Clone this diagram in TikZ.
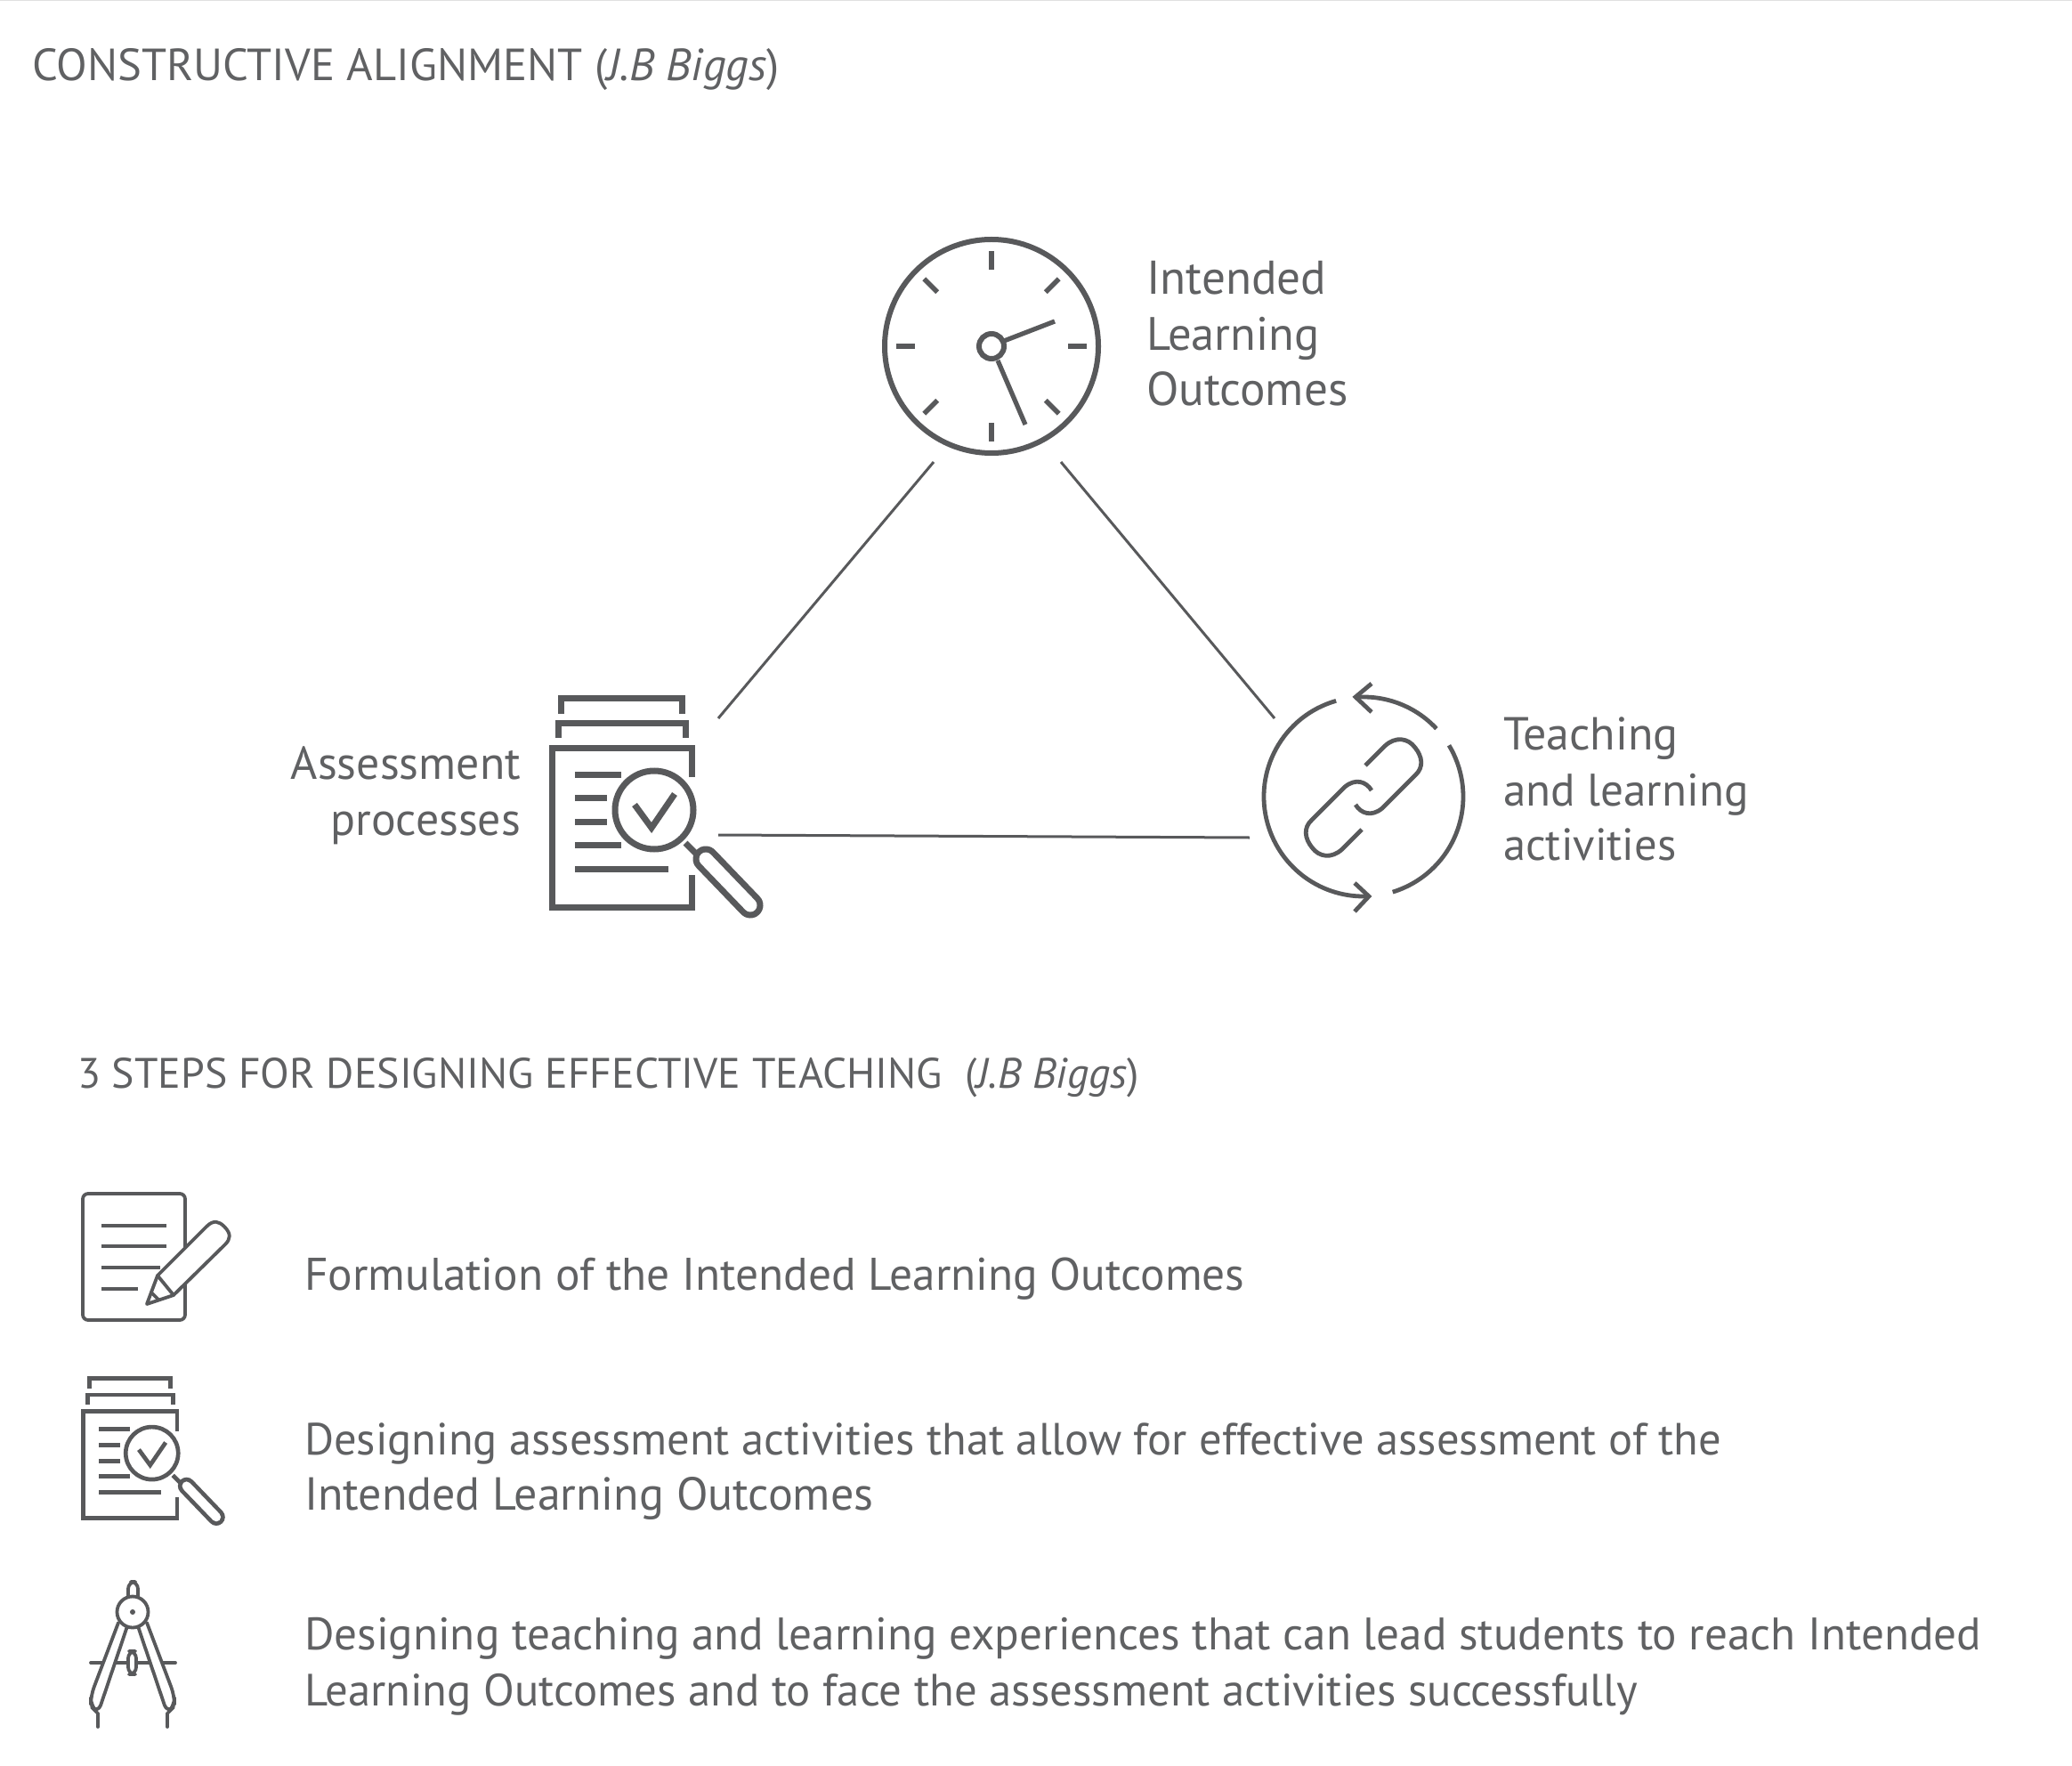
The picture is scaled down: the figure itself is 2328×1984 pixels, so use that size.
\documentclass[tikz,border=0pt]{standalone}
\usepackage{fontspec}
\usetikzlibrary{calc}
\setmainfont{PT Sans}
\definecolor{ink}{HTML}{58595B}
\definecolor{txt}{HTML}{606163}
\newcommand{\fs}[1]{\fontsize{#1}{#1}\selectfont}
\tikzset{
  x=0.5pt,y=-0.5pt,
  label/.style={inner sep=0pt,outer sep=0pt,anchor=base west,text=txt,font=\fs{25.6}},
  labelr/.style={label,anchor=base east},
  link/.style={draw=ink,line width=1.5pt},
  thin icon/.style={draw=ink,line width=1.9pt,line cap=round,line join=round},
}
\newcommand{\assessicon}[3]{%
\begin{scope}[shift={(#1,#2)},scale=#3,line width={#3*3.5pt}]
  \draw[ink] (14,-34) -- (14,-52) -- (150,-52) -- (150,-34);
  \draw[ink] (11,-7) -- (11,-24) -- (154,-24) -- (154,-7);
  \draw[ink] (161,37) -- (161,4) -- (4,4) -- (4,183) -- (161,183) -- (161,147);
  \draw[ink] (30,34) -- (82,34) (30,60) -- (66,60) (30,87) -- (66,87) (30,113) -- (82,113) (30,140) -- (135,140);
  \draw[ink] (119,74) circle (44);
  \draw[ink] (97,68) -- (116,94) -- (142,56);
  \draw[ink] (154,111) -- (170,127);
  \draw[ink,line width={#3*14.5pt},line cap=round] (177,129) -- (227,181);
  \draw[white,line width={#3*7.5pt},line cap=round] (177,129) -- (227,181);
\end{scope}}
\begin{document}
\begin{tikzpicture}
\useasboundingbox (0,0) rectangle (2328,1984);
\fill[white] (0,0) rectangle (2328,1984);
\fill[black!12] (0,0) rectangle (2328,1.5);

\node[label,font=\fs{25.3}] (title1) at (36,91) {CONSTRUCTIVE ALIGNMENT (\textit{J.B Biggs})};
\node[label,font=\fs{23.9}] (title2) at (87,1222) {3 STEPS FOR DESIGNING EFFECTIVE TEACHING\ \ (\textit{J.B Biggs})};

% clock
\coordinate (clock) at (1114,389);
\draw[ink,line width=3pt] (clock) circle (120);
\foreach \a in {0,45,...,315}{
  \draw[ink,line width=2.8pt] ($(clock)+(\a:86)$) -- ($(clock)+(\a:107)$);
}
\draw[ink,line width=3pt] (clock) circle (14);
\draw[ink,line width=2.6pt] (1128,383) -- (1185,361);
\draw[ink,line width=2.6pt] (1121,405) -- (1152,477);

\node[label,font=\fs{26.6}] (ilo1) at (1288,331) {Intended};
\node[label,font=\fs{26.3}] (ilo2) at (1288,394) {Learning};
\node[label,font=\fs{26.6}] (ilo3) at (1288,456) {Outcomes};

\node[labelr,font=\fs{25.9}] (ap1) at (585,875) {Assessment};
\node[labelr,font=\fs{25.9}] (ap2) at (585,938) {processes};

\node[label,font=\fs{26}] (tl1) at (1689,842) {Teaching};
\node[label,font=\fs{25.6}] (tl2) at (1689,905) {and learning};
\node[label,font=\fs{25.3}] (tl3) at (1689,966) {activities};

% connectors
\coordinate (a1) at (1049,519); \coordinate (a2) at (807,807);
\coordinate (b1) at (1192,519); \coordinate (b2) at (1432,807);
\coordinate (c1) at (807,938);  \coordinate (c2) at (1404,941);
\draw[link] (a1) -- (a2);
\draw[link] (b1) -- (b2);
\draw[link] (c1) -- (c2);

% assessment icons
\assessicon{616}{836}{1}
\assessicon{91}{1583}{0.67}

% cycle icon
\coordinate (cy) at (1532,895);
\draw[ink,line width=2.4pt] ($(cy)+(-106:112)$) arc[start angle=-106,end angle=-273,radius=112];
\draw[ink,line width=2.4pt] ($(cy)+(73:112)$) arc[start angle=73,end angle=-31,radius=112];
\draw[ink,line width=2.4pt] ($(cy)+(-43:112)$) arc[start angle=-43,end angle=-95,radius=112];
\draw[ink,line width=2.4pt] (1541,768) -- (1523,783) -- (1541,800);
\draw[ink,line width=2.4pt] (1522,992) -- (1538,1007) -- (1522,1024);
\foreach \r in {0,180}{
\begin{scope}[rotate around={\r:(1532,896)}]
  \draw[ink,line width=2.4pt] (1534,860) -- (1556,838) .. controls (1568,827) and (1582,829) .. (1590,840) .. controls (1598,850) and (1600,862) .. (1590,871) -- (1553,908) .. controls (1541,918) and (1529,914) .. (1523,904);
\end{scope}
}

% step texts
\node[label,font=\fs{25.7}] (s1) at (342,1449) {Formulation of the Intended Learning Outcomes};
\node[label,font=\fs{25.3}] (s2a) at (342,1634) {Designing assessment activities that allow for effective assessment of the};
\node[label,font=\fs{26}] (s2b) at (342,1696) {Intended Learning Outcomes};
\node[label,font=\fs{25.6}] (s3a) at (342,1853) {Designing teaching and learning experiences that can lead students to reach Intended};
\node[label,font=\fs{25.4}] (s3b) at (342,1916) {Learning Outcomes and to face the assessment activities successfully};

% document + pencil icon
\draw[ink,line width=1.9pt,rounded corners=3pt] (93,1341) rectangle (208,1483);
\draw[ink,line width=1.9pt] (114,1377) -- (187,1377) (114,1400) -- (187,1400) (114,1424) -- (180,1424) (114,1448) -- (155,1448);
\draw[thin icon,fill=white] (165,1465) -- (177,1433) -- (232,1378) .. controls (240,1370) and (246,1372) .. (252,1378) .. controls (260,1386) and (259,1392) .. (253,1398) -- (195,1455) -- cycle;
\draw[thin icon] (177,1433) -- (195,1455);
\draw[thin icon] (170,1452) -- (178,1460);

% compass icon
\draw[thin icon] (102,1868) -- (197,1868);
\draw[thin icon,rounded corners=4pt,fill=white] (144,1795) -- (144,1777) -- (155,1777) -- (155,1795);
\draw[thin icon,fill=white,rounded corners=5pt] (133,1823) -- (102,1905) -- (102,1917) -- (110,1925) -- (143,1827);
\draw[thin icon,fill=white,rounded corners=5pt] (165,1823) -- (196,1905) -- (196,1917) -- (188,1925) -- (155,1827);
\draw[thin icon] (110,1925) -- (110,1940) (188,1925) -- (188,1940);
\draw[thin icon,fill=white] (149,1811) circle (17.5);
\fill[ink] (149,1811) circle (3);
\draw[thin icon,fill=white,rounded corners=4pt] (144,1855) rectangle (153,1881);
\end{tikzpicture}
\end{document}
